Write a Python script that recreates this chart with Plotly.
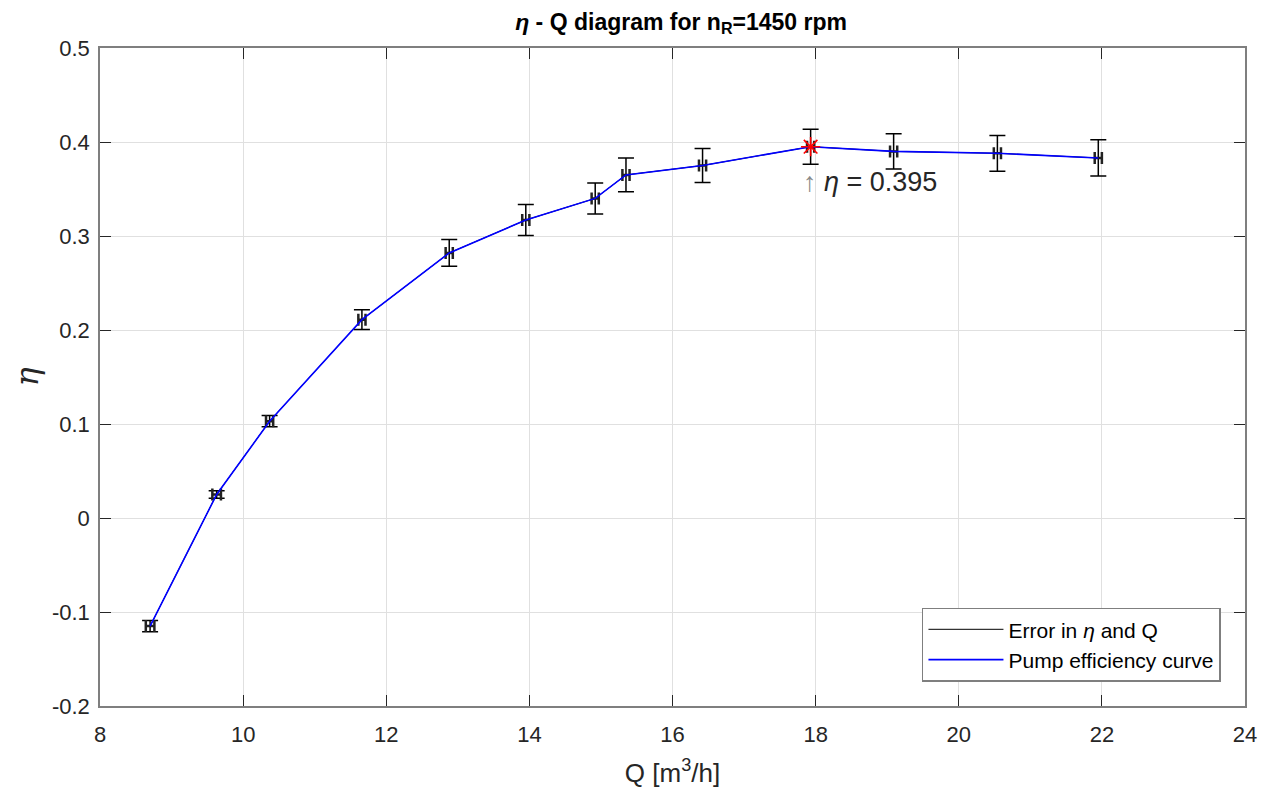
import plotly.graph_objects as go

# Data
Q = [8.70, 9.63, 10.37, 11.66, 12.88, 13.95, 14.92, 15.35, 16.42, 17.93, 19.09, 20.54, 21.95]
eta = [-0.115, 0.025, 0.103, 0.211, 0.282, 0.317, 0.340, 0.365, 0.375, 0.395, 0.390, 0.388, 0.383]
eta_err = [0.006, 0.004, 0.006, 0.0106, 0.0142, 0.0165, 0.0165, 0.018, 0.018, 0.0186, 0.0188, 0.019, 0.0193]
Q_err = [0.06, 0.06, 0.05, 0.05, 0.05, 0.05, 0.05, 0.05, 0.05, 0.05, 0.05, 0.05, 0.05]

Q_max = 17.93
eta_max = 0.395

x_ticks = [8, 10, 12, 14, 16, 18, 20, 22, 24]
x_ticklabels = ["8", "10", "12", "14", "16", "18", "20", "22", "24"]
y_ticks = [-0.2, -0.1, 0, 0.1, 0.2, 0.3, 0.4, 0.5]
y_ticklabels = ["-0.2", "-0.1", "0", "0.1", "0.2", "0.3", "0.4", "0.5"]

FONT = "Liberation Sans, Arial, Helvetica, sans-serif"
TXT = "#262626"

fig = go.Figure()

fig.add_trace(go.Scatter(
    x=Q, y=eta, mode="lines",
    line=dict(color="black", width=1),
    error_y=dict(type="data", array=eta_err, visible=True, color="black", thickness=1.5, width=8),
    error_x=dict(type="data", array=Q_err, visible=True, color="#222222", thickness=2.5, width=6),
    name="Error in <i>η</i> and Q",
))

fig.add_trace(go.Scatter(
    x=Q, y=eta, mode="lines",
    line=dict(color="#0000ff", width=1.6),
    name="Pump efficiency curve",
))

fig.add_trace(go.Scatter(
    x=[Q_max], y=[eta_max], mode="markers",
    marker=dict(symbol="asterisk-open", size=16, color="#ff0000", line=dict(color="#ff0000", width=1.6)),
    showlegend=False,
))

fig.add_annotation(
    x=Q_max, y=eta_max, xref="x", yref="y",
    text="<span style='color:#888888'>↑</span> <i>η</i> = 0.395",
    showarrow=False, xanchor="left", yanchor="top",
    xshift=-10, yshift=-18,
    font=dict(family=FONT, size=27, color=TXT),
)

axis_common = dict(
    showline=True, linecolor="#7f7f7f", linewidth=1.5, mirror="ticks",
    ticks="inside", ticklen=11, tickcolor="#262626", tickwidth=1,
    showgrid=True, gridcolor="#e0e0e0", gridwidth=1,
    zeroline=False,
    tickfont=dict(family=FONT, size=22, color=TXT),
)

fig.update_xaxes(
    range=[8, 24], tickvals=x_ticks, ticktext=x_ticklabels,
    ticklabelstandoff=8,
    title=dict(text="Q [m<sup>3</sup>/h]", font=dict(family=FONT, size=26, color=TXT), standoff=18),
    **axis_common,
)
fig.update_yaxes(
    range=[-0.2, 0.5], tickvals=y_ticks, ticktext=y_ticklabels,
    ticklabelstandoff=4,
    title=dict(text="<i>η</i>", font=dict(family="DejaVu Serif, serif", size=32, color=TXT), standoff=10),
    **axis_common,
)

fig.update_layout(
    width=1270, height=794,
    paper_bgcolor="white", plot_bgcolor="white",
    margin=dict(l=92, r=33, t=40, b=96),
    title=dict(
        text="<b><i>η</i> - Q diagram for n<sub>R</sub>=1450 rpm</b>",
        x=0.53, xanchor="center", y=0.983, yanchor="middle",
        font=dict(family=FONT, size=23, color="#000000"),
    ),
    legend=dict(
        x=0.979, y=0.037, xanchor="right", yanchor="bottom",
        bgcolor="white", bordercolor="#7f7f7f", borderwidth=1.5,
        font=dict(family=FONT, size=21, color="#000000"),
        tracegroupgap=0, itemwidth=75,
    ),
    showlegend=True,
)

fig.write_html("out.html")
